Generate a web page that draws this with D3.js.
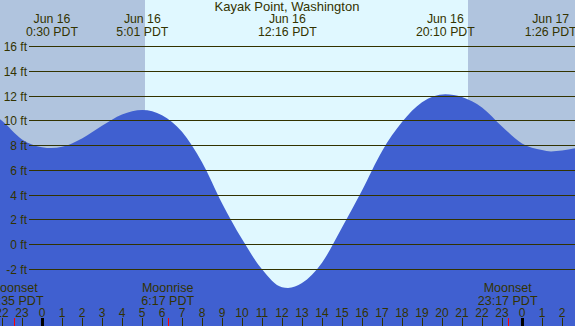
<!DOCTYPE html>
<html><head><meta charset="utf-8">
<script src="https://cdn.jsdelivr.net/npm/d3@7"></script>
<style>html,body{margin:0;padding:0;background:#fff;}svg{display:block;}</style>
</head><body>
<svg id="c" width="575" height="326"></svg>
<script>
// Tide heights (ft); time = hours since Jun 16 00:00 PDT
const tideHours   = [-3, -2, -1, 0, 0.48, 1, 2, 3, 4, 5.02, 6, 7, 8, 9, 10, 11, 12, 12.3, 13, 14, 15, 16, 17, 18, 19, 20.17, 21, 22, 23, 24, 25, 25.45, 26, 27, 27.5];
const tideHeights = [11.1, 9.95, 8.45, 7.82, 7.75, 7.85, 8.53, 9.55, 10.46, 10.83, 10.41, 9.07, 6.6, 3.3, 0.4, -2.05, -3.5, -3.55, -3.15, -1.51, 1.34, 4.32, 7.5, 9.85, 11.45, 12.1, 11.88, 11.03, 9.5, 8.13, 7.6, 7.48, 7.55, 7.9, 8.2];

// Extremes shown at top
const extremeHours = [0.5, 5.017, 12.267, 20.167, 25.433];
const extremeDates = ["Jun 16", "Jun 16", "Jun 16", "Jun 16", "Jun 17"];
const extremeTimes = ["0:30 PDT", "5:01 PDT", "12:16 PDT", "20:10 PDT", "1:26 PDT"];

// Sun (day band)
const sunrise = 5.15, sunset = 21.3;

// Moon events
const moonHours = [-1.417, 6.283, 23.283];
const moonNames = ["Moonset", "Moonrise", "Moonset"];
const moonTimes = ["22:35 PDT", "6:17 PDT", "23:17 PDT"];

const yTicks = [-2, 0, 2, 4, 6, 8, 10, 12, 14, 16];
const hourTicks = d3.range(-2, 27);

const title = "Kayak Point, Washington";

const W = 575, H = 326;
const svg = d3.select("#c");
const font = "'Liberation Sans', Arial, sans-serif";
const textCol = "#333300";

const x = d3.scaleLinear().domain([0, 24]).range([42, 522]);
const y = d3.scaleLinear().domain([0, 16]).range([244, 46]);

// background
svg.append("rect").attr("x", 0).attr("y", 0).attr("width", W).attr("height", H).attr("fill", "#b0c4de");
svg.append("rect").attr("x", x(sunrise)).attr("y", 0).attr("width", x(sunset) - x(sunrise)).attr("height", H).attr("fill", "#e0f8ff");

// water
const data = tideHours.map((h, i) => [h, tideHeights[i]]);
const area = d3.area().x(d => x(d[0])).y0(H).y1(d => y(d[1])).curve(d3.curveMonotoneX);
svg.append("path").datum(data).attr("d", area).attr("fill", "#4060d0");

// grid lines + labels
const g = svg.append("g");
g.selectAll("line.grid").data(yTicks).join("line")
  .attr("x1", 29).attr("x2", W)
  .attr("y1", d => Math.round(y(d)) + 0.5).attr("y2", d => Math.round(y(d)) + 0.5)
  .attr("stroke", "#333300").attr("stroke-width", 1);
g.selectAll("text.yl").data(yTicks).join("text")
  .attr("x", 27).attr("y", d => Math.round(y(d)) + 4.5)
  .attr("text-anchor", "end").attr("font-family", font).attr("font-size", 12).attr("fill", textCol)
  .text(d => d + " ft");

// title and extremes
svg.append("text").attr("x", 287).attr("y", 10.5).attr("text-anchor", "middle")
  .attr("font-family", font).attr("font-size", 13).attr("fill", textCol).text(title);
const ex = svg.append("g");
extremeHours.forEach((h, i) => {
  ex.append("text").attr("x", x(h)).attr("y", 23).attr("text-anchor", "middle")
    .attr("font-family", font).attr("font-size", 12.3).attr("fill", textCol).text(extremeDates[i]);
  ex.append("text").attr("x", x(h)).attr("y", 35.5).attr("text-anchor", "middle")
    .attr("font-family", font).attr("font-size", 12.3).attr("fill", textCol).text(extremeTimes[i]);
});

// moon labels
moonHours.forEach((h, i) => {
  svg.append("text").attr("x", x(h)).attr("y", 292).attr("text-anchor", "middle")
    .attr("font-family", font).attr("font-size", 12.5).attr("fill", textCol).text(moonNames[i]);
  svg.append("text").attr("x", x(h)).attr("y", 304.5).attr("text-anchor", "middle")
    .attr("font-family", font).attr("font-size", 12.5).attr("fill", textCol).text(moonTimes[i]);
});

// hour axis
const ax = svg.append("g");
ax.selectAll("text").data(hourTicks).join("text")
  .attr("x", d => x(d)).attr("y", 317).attr("text-anchor", "middle")
  .attr("font-family", font).attr("font-size", 12).attr("fill", textCol)
  .text(d => ((d % 24) + 24) % 24);
ax.selectAll("line").data(hourTicks).join("line")
  .attr("x1", d => Math.round(x(d)) + 0.5).attr("x2", d => Math.round(x(d)) + 0.5)
  .attr("y1", 318).attr("y2", H)
  .attr("stroke", d => (d % 24 === 0) ? "#000" : "#333300")
  .attr("stroke-width", d => (d % 24 === 0) ? 3 : 1);
svg.selectAll("line.moon").data(moonHours).join("line").attr("class", "moon")
  .attr("x1", d => Math.round(x(d)) + 0.5).attr("x2", d => Math.round(x(d)) + 0.5)
  .attr("y1", 318).attr("y2", H).attr("stroke", "#ff0000").attr("stroke-width", 1);
</script>
</body></html>
